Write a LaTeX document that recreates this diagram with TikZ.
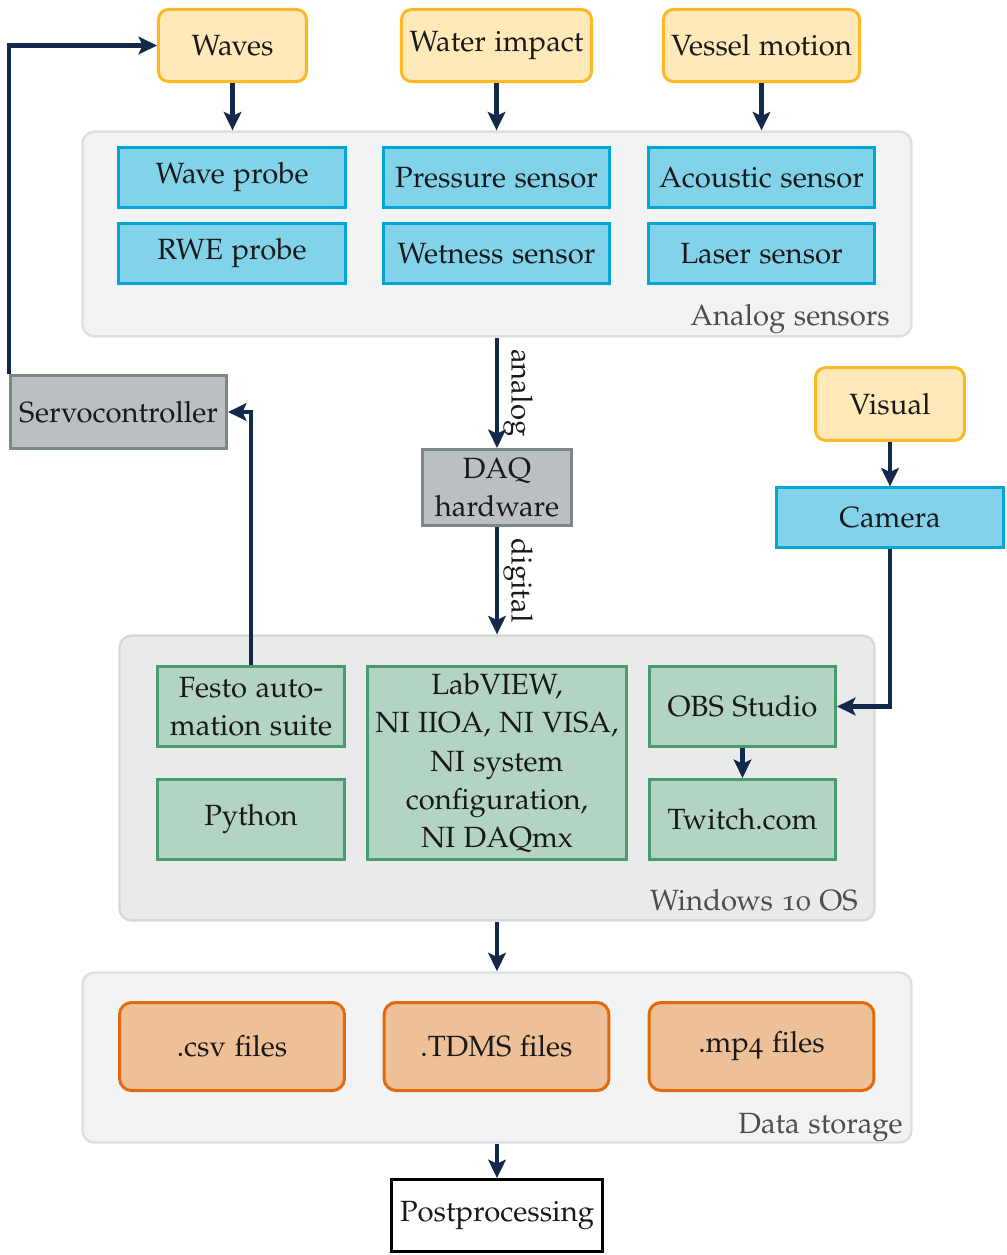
\documentclass[tikz,border=0pt]{standalone}
\usepackage[T1]{fontenc}
\usepackage[osf]{mathpazo}
\usetikzlibrary{arrows.meta, positioning, calc}
\definecolor{Navy}{HTML}{13294B}
\definecolor{SunFill}{HTML}{FFE9B9}
\definecolor{SunLine}{HTML}{FDB827}
\definecolor{SkyFill}{HTML}{82D3EA}
\definecolor{SkyLine}{HTML}{00A6D6}
\definecolor{SteelFill}{HTML}{BBBFC1}
\definecolor{SteelLine}{HTML}{7C878B}
\definecolor{MintFill}{HTML}{B3D3C3}
\definecolor{MintLine}{HTML}{4A9A6F}
\definecolor{RustFill}{HTML}{EEC097}
\definecolor{RustLine}{HTML}{E26A0C}
\definecolor{GroupFill}{HTML}{F2F3F4}
\definecolor{GroupLine}{HTML}{DDDEE1}
\definecolor{OSFill}{HTML}{E9EAEA}
\definecolor{OSLine}{HTML}{D7D9D9}
\definecolor{Caption}{HTML}{4D4D4D}

\begin{document}
\begin{tikzpicture}[x=0.025cm, y=-0.025cm,
    every node/.style={font=\fontsize{20.8}{27.2}\selectfont, text=black!90},
    arr/.style={line width=0.11cm, Navy, -{Stealth[length=0.46cm, width=0.44cm, inset=0.1cm]}},
    source/.style={draw=SunLine, fill=SunFill, line width=0.075cm, rounded corners=0.25cm, minimum height=1.8cm},
    sensor/.style={draw=SkyLine, fill=SkyFill, line width=0.075cm, minimum width=5.65cm, minimum height=1.48cm},
    hardware/.style={draw=SteelLine, fill=SteelFill, line width=0.075cm, align=center},
    software/.style={draw=MintLine, fill=MintFill, line width=0.075cm, align=center},
    datafile/.style={draw=RustLine, fill=RustFill, line width=0.075cm, rounded corners=0.3cm, minimum width=5.62cm, minimum height=2.2cm},
    group/.style={draw=GroupLine, fill=GroupFill, line width=0.06cm, rounded corners=0.3cm},
    caption/.style={text=Caption, anchor=base east, inner sep=0pt}]
    \useasboundingbox (0,0) rectangle (1006,1255);

    % groups
    \node[group, minimum width=20.72cm, minimum height=5.12cm] (analog) at (497,234) {};
    \node[group, draw=OSLine, fill=OSFill, minimum width=18.87cm, minimum height=7.12cm] (win) at (497,778) {};
    \node[group, minimum width=20.72cm, minimum height=4.25cm] (store) at (497,1057.5) {};
    \node[caption] at (890,325) {Analog sensors};
    \node[caption] at (858,910) {Windows 10 OS};
    \node[caption] at (903,1133) {Data storage};

    % sources
    \node[source, minimum width=3.7cm] (waves) at (232.5,45.5) {Waves};
    \node[source, minimum width=4.75cm] (water) at (496.5,45.5) {Water impact};
    \node[source, minimum width=4.9cm] (vessel) at (761.5,45.5) {Vessel motion};
    \node[source, minimum width=3.72cm, minimum height=1.82cm] (visual) at (890,404) {Visual};

    % sensors
    \node[sensor] (waveprobe) at (232,177.5) {Wave probe};
    \node[sensor] (pressure) at (496.5,177.5) {Pressure sensor};
    \node[sensor] (acoustic) at (761.5,177.5) {Acoustic sensor};
    \node[sensor] (rweprobe) at (232,253.5) {RWE probe};
    \node[sensor] (wetness) at (496.5,253.5) {Wetness sensor};
    \node[sensor] (laser) at (761.5,253.5) {Laser sensor};
    \node[sensor] (camera) at (890,517.5) {Camera};

    % hardware
    \node[hardware, minimum width=5.4cm, minimum height=1.82cm] (servo) at (118.5,412) {Servocontroller};
    \node[hardware, minimum width=3.72cm, minimum height=1.9cm] (daq) at (497,487.5) {DAQ\\hardware};

    % software
    \node[software, minimum width=4.68cm, minimum height=2cm] (festo) at (251,706.5) {Festo auto-\\mation suite};
    \node[software, minimum width=4.68cm, minimum height=2cm] (python) at (251,819.5) {Python};
    \node[software, minimum width=6.48cm, minimum height=4.83cm] (labview) at (497,763) {LabVIEW,\\NI IIOA, NI VISA,\\NI system\\configuration,\\NI DAQmx};
    \node[software, minimum width=4.65cm, minimum height=2cm] (obs) at (742.5,706.5) {OBS Studio};
    \node[software, minimum width=4.65cm, minimum height=2cm] (twitch) at (742.5,819.5) {Twitch.com};

    % files
    \node[datafile] (csv) at (232,1046.5) {.csv files};
    \node[datafile] (tdms) at (496.5,1046.5) {.TDMS files};
    \node[datafile] (mpfour) at (761.5,1046.5) {.mp4 files};
    \node[draw=black, fill=white, line width=0.07cm, minimum width=5.28cm, minimum height=1.8cm] (post) at (497,1215.5) {Postprocessing};

    % connectors
    \draw[arr] (waves.south) -- (waves.south |- analog.north);
    \draw[arr] (water.south) -- (water.south |- analog.north);
    \draw[arr] (vessel.south) -- (vessel.south |- analog.north);
    \draw[arr] (servo.north west) |- (waves.west);
    \draw[arr] (festo.north) |- (servo.east);
    \draw[arr] (analog.south) -- (daq.north) node[midway, rotate=-90, anchor=south, inner sep=3pt] {analog};
    \draw[arr] (daq.south) -- (win.north) node[midway, rotate=-90, anchor=south, inner sep=3pt] {digital};
    \draw[arr] (visual) -- (camera);
    \draw[arr] (camera.south) |- (obs.east);
    \draw[arr] (obs) -- (twitch);
    \draw[arr] (win.south) -- (store.north);
    \draw[arr] (store.south) -- (post.north);
\end{tikzpicture}
\end{document}
